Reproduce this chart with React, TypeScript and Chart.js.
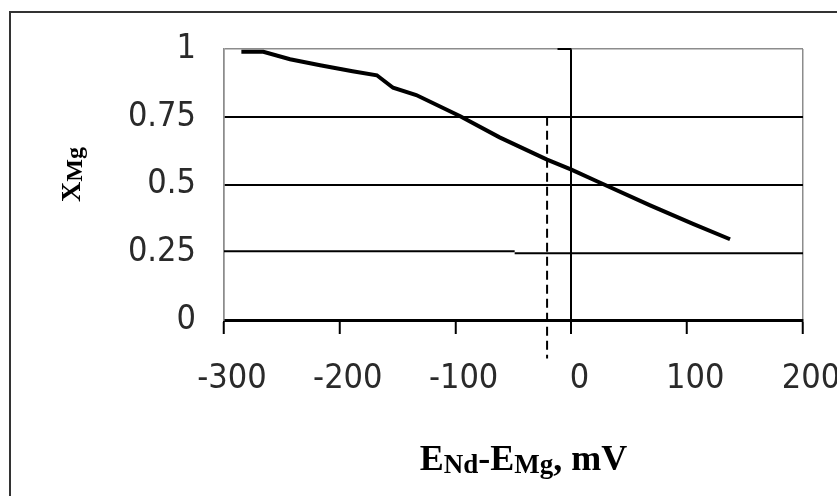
import React, { useEffect, useRef } from "react";
import { Chart, registerables } from "chart.js";

Chart.register(...registerables);

// ---- data ----
const curveX = [-285, -266, -243, -217, -189, -168, -154, -134, -96, -62, -21, 0, 22, 68, 105, 137];
const curveY = [0.99, 0.99, 0.962, 0.94, 0.918, 0.903, 0.857, 0.83, 0.752, 0.674, 0.592, 0.555, 0.512, 0.423, 0.355, 0.298];

const markerX = [-21, -21];
const markerY = [0.75, -0.142];

const gridStepLeftX = [-300, -49];
const gridStepLeftY = [0.2535, 0.2535];
const gridStepRightX = [-49, 200];
const gridStepRightY = [0.2463, 0.2463];

const topTickX = [-12, 0];
const topTickY = [1, 1];

const xTicks = [-300, -200, -100, 0, 100, 200];
const yTicks = [0, 0.25, 0.5, 0.75, 1];

const xTitleRuns = [
  { text: "E", sub: false },
  { text: "Nd", sub: true },
  { text: "-", sub: false },
  { text: "E", sub: false },
  { text: "Mg", sub: true },
  { text: ", mV", sub: false },
];
const yTitleRuns = [
  { text: "X", sub: false },
  { text: "Mg", sub: true },
];

const pts = (xs: number[], ys: number[]) => xs.map((x, i) => ({ x, y: ys[i] }));

const TICK_FONT = "'Liberation Sans Narrow', 'DejaVu Sans Condensed', 'Liberation Sans', sans-serif";
const SERIF = "'Liberation Serif', 'DejaVu Serif', serif";
const GRAY = "#8c8c8c";

function drawRuns(
  ctx: CanvasRenderingContext2D,
  runs: { text: string; sub: boolean }[],
  mainFont: string,
  subFont: string,
  subDy: number,
  cx: number,
  baseline: number
) {
  let total = 0;
  for (const r of runs) {
    ctx.font = r.sub ? subFont : mainFont;
    total += ctx.measureText(r.text).width;
  }
  let x = cx - total / 2;
  ctx.textAlign = "left";
  ctx.textBaseline = "alphabetic";
  for (const r of runs) {
    ctx.font = r.sub ? subFont : mainFont;
    ctx.fillText(r.text, x, baseline + (r.sub ? subDy : 0));
    x += ctx.measureText(r.text).width;
  }
}

const decorPlugin = {
  id: "decor",
  afterDraw(chart: any) {
    const ctx: CanvasRenderingContext2D = chart.ctx;
    const area = chart.chartArea;
    ctx.save();
    // outer frame (cut at right and bottom like the reference)
    ctx.strokeStyle = "#333";
    ctx.lineWidth = 2;
    ctx.beginPath();
    ctx.moveTo(10, chart.height);
    ctx.lineTo(10, 12);
    ctx.lineTo(chart.width, 12);
    ctx.stroke();

    ctx.fillStyle = "#000";
    // x axis title
    drawRuns(
      ctx,
      xTitleRuns,
      `bold 36px ${SERIF}`,
      `bold 27px ${SERIF}`,
      3,
      (area.left + area.right) / 2 + 10,
      470
    );
    // y axis title (rotated)
    ctx.translate(80, (area.top + area.bottom) / 2 - 10);
    ctx.rotate(-Math.PI / 2);
    drawRuns(ctx, yTitleRuns, `bold 28px ${SERIF}`, `bold 24px ${SERIF}`, 2, 0, 0);
    ctx.restore();
  },
};

export default function App() {
  const canvasRef = useRef<HTMLCanvasElement | null>(null);

  useEffect(() => {
    document.body.style.margin = "0";
    const canvas = canvasRef.current;
    if (!canvas) return;

    const chart = new Chart(canvas, {
      type: "line",
      data: {
        datasets: [
          {
            data: pts(curveX, curveY),
            borderColor: "#000",
            borderWidth: 4,
            pointRadius: 0,
            tension: 0,
            fill: false,
          },
          {
            data: pts(markerX, markerY),
            borderColor: "#000",
            borderWidth: 2,
            borderDash: [9, 5],
            pointRadius: 0,
            fill: false,
            clip: false,
          },
          {
            data: pts(gridStepLeftX, gridStepLeftY),
            borderColor: "#000",
            borderWidth: 2,
            pointRadius: 0,
            fill: false,
          },
          {
            data: pts(gridStepRightX, gridStepRightY),
            borderColor: "#000",
            borderWidth: 2,
            pointRadius: 0,
            fill: false,
          },
          {
            data: pts(topTickX, topTickY),
            borderColor: "#000",
            borderWidth: 2,
            pointRadius: 0,
            fill: false,
            clip: false,
          },
        ],
      },
      options: {
        animation: false,
        responsive: false,
        devicePixelRatio: 1,
        layout: { padding: { top: 49, right: 34, left: 0, bottom: 0 } },
        plugins: {
          legend: { display: false },
          tooltip: { enabled: false },
        },
        scales: {
          x: {
            type: "linear",
            min: -300,
            max: 200,
            afterBuildTicks: (s: any) => {
              s.ticks = xTicks.map((v) => ({ value: v }));
            },
            afterFit: (s: any) => {
              s.height = 176;
              s.paddingLeft = 0;
              s.paddingRight = 0;
            },
            ticks: {
              font: { family: TICK_FONT, size: 34 },
              color: "#2a2a2a",
              padding: 25,
              labelOffset: 8,
              maxRotation: 0,
              autoSkip: false,
              callback: (v: any) => String(v),
            },
            grid: {
              drawOnChartArea: true,
              drawTicks: true,
              tickLength: 14,
              tickColor: "#000",
              tickWidth: 2,
              color: (c: any) => {
                const v = c.tick ? c.tick.value : null;
                if (v === 0) return "#000";
                if (v === -300 || v === 200) return GRAY;
                return "rgba(0,0,0,0)";
              },
              lineWidth: (c: any) => (c.tick && c.tick.value === 0 ? 2 : 1.5),
            },
            border: { display: true, color: "#000", width: 3 },
          },
          y: {
            type: "linear",
            min: 0,
            max: 1,
            afterBuildTicks: (s: any) => {
              s.ticks = yTicks.map((v) => ({ value: v }));
            },
            afterFit: (s: any) => {
              s.width = 224;
              s.paddingTop = 0;
              s.paddingBottom = 0;
            },
            ticks: {
              font: { family: TICK_FONT, size: 34 },
              color: "#2a2a2a",
              padding: 28,
              callback: (v: any) => String(v),
            },
            grid: {
              drawTicks: false,
              color: (c: any) => {
                const v = c.tick ? c.tick.value : null;
                if (v === 1) return GRAY;
                if (v === 0.25) return "rgba(0,0,0,0)";
                return "#000";
              },
              lineWidth: (c: any) => (c.tick && c.tick.value === 1 ? 1.5 : 2),
            },
            border: { display: true, color: GRAY, width: 1.5 },
          },
        },
      },
      plugins: [decorPlugin],
    } as any);

    return () => chart.destroy();
  }, []);

  return (
    <div style={{ width: 837, height: 496, background: "#fff" }}>
      <canvas ref={canvasRef} width={837} height={496} style={{ display: "block" }} />
    </div>
  );
}
